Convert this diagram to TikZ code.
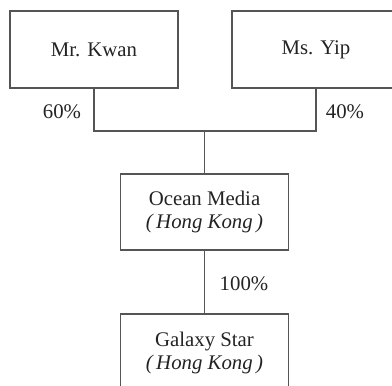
\documentclass[tikz,border=0pt]{standalone}
\usepackage{fontspec}
\setmainfont{Liberation Serif}
\definecolor{linegray}{RGB}{85,85,85}
\definecolor{textgray}{RGB}{35,35,35}
\begin{document}
\begin{tikzpicture}
[x=0.5pt,y=-0.5pt,
  boxdecorate/.style={shape=rectangle,draw=linegray,line width=0.55pt,
    minimum width=84pt,inner sep=0pt,align=center,text=textgray,
    font=\fontsize{10.4}{11.2}\selectfont},
  linedecorate/.style={-,draw=linegray,line width=0.55pt},
  sharedecorate/.style={text=textgray,inner sep=0pt,
    font=\fontsize{10.4}{12}\selectfont}]
\useasboundingbox (0,0) rectangle (392,386);
\clip (0,0) rectangle (392,386);
%% owners and companies
\foreach \nodename/\x/\y/\h/\caption in {kwan/94/49.5/38.5/Mr. Kwan,
  yip/316/49.5/38.5/Ms. Yip,
  ocean/204.5/212/38/{Ocean Media\\\textit{(\,Hong Kong\,)}},
  galaxy/204.5/353/39/{Galaxy Star\\\textit{(\,Hong Kong\,)}}} {
  \node (\nodename) at (\x,\y) [boxdecorate,minimum height=\h pt] {\caption};
}
\coordinate (joint) at (204.5,131);
%% shares
\node (kwanshare) at (62,112) [sharedecorate] {60\%};
\node (yipshare) at (345,112) [sharedecorate] {40\%};
\node (oceanshare) at (244,284) [sharedecorate] {100\%};
%% lines
\draw[linedecorate] (kwan.south) |- (joint) -| (yip.south);
\path
\foreach \startnode/\endnode in {joint/ocean.north, ocean/galaxy} {
  (\startnode) edge[linedecorate] (\endnode)
};
\end{tikzpicture}
\end{document}
